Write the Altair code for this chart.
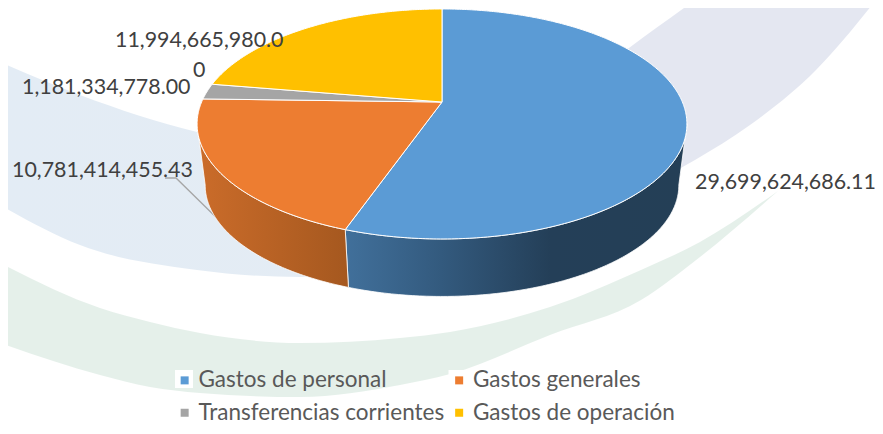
import math
import altair as alt
import pandas as pd

# ---- data
categories = ["Gastos de personal", "Gastos generales", "Transferencias corrientes", "Gastos de operación"]
values = [29699624686.11, 10781414455.43, 1181334778.00, 11994665980.00]
colors = ["#5B9BD5", "#ED7D31", "#A5A5A5", "#FFC000"]

# decorative background bands (reference pixels)
band1_x = [0, 80, 197, 300, 400, 550, 629, 695, 750, 816, 876]
band1_top = [62, 95, 132, 150, 155, 110, 48, 0, -40, -90, -140]
band1_bot = [205, 245, 270, 277, 268, 235, 195, 160, 125, 70, 0]
band2_x = [0, 100, 150, 200, 300, 400, 450, 550, 641, 700, 778]
band2_top = [263, 308, 322, 333, 343, 338, 332, 307, 270, 242, 191]
band2_bot = [343, 375, 387, 393, 397, 385, 374, 335, 300, 257, 191]

W, H = 867, 418
X = alt.Scale(domain=[8, 8 + W], range=[0, W])
Y = alt.Scale(domain=[8, 8 + H], range=[0, H])

# ---- perspective pie geometry
CX, AP, A, B, K = 442, 102, 240.4, 110.8, -0.191
DEPTH_SCALE, AP2 = 0.967, 164


def top(t):
    u, v = math.sin(t), -math.cos(t)
    d = 1 + K * v
    return CX + A * u / d, AP + B * v / d


def bottom(t):
    u, v = math.sin(t), -math.cos(t)
    d = 1 + K * v
    return CX + DEPTH_SCALE * A * u / d, AP2 + DEPTH_SCALE * B * v / d


def steps(a, b, n=None):
    n = n or max(2, int(abs(b - a) / math.radians(0.7)))
    return [a + (b - a) * i / n for i in range(n + 1)]


total = sum(values)
edges = [0.0]
for v in values:
    edges.append(edges[-1] + v / total * 2 * math.pi)

rows = []
for name, a, b in zip(categories, edges[:-1], edges[1:]):
    pts = [(CX, AP)] + [top(t) for t in steps(a, b)]
    rows += [{"cat": name, "i": i, "px": p[0], "py": p[1]} for i, p in enumerate(pts)]
pie_df = pd.DataFrame(rows)

t_right = math.radians(101)
t_left = math.radians(259)


def wall(a, b):
    ts = steps(a, b)
    pts = [top(t) for t in ts] + [bottom(t) for t in reversed(ts)]
    return pd.DataFrame([{"i": i, "px": p[0], "py": p[1]} for i, p in enumerate(pts)])


def grad(stops):
    return alt.LinearGradient(
        gradient="linear", x1=0, x2=1, y1=0, y2=0,
        stops=[alt.GradientStop(offset=o, color=c) for o, c in stops],
    )


def band(xs, ys, y2s, g):
    df = pd.DataFrame({"px": xs, "py": ys, "py2": y2s})
    return alt.Chart(df).mark_area(fill=g, interpolate="monotone", clip=True).encode(
        x=alt.X("px:Q", scale=X, axis=None),
        y=alt.Y("py:Q", scale=Y, axis=None),
        y2="py2:Q",
    )


band1 = band(band1_x, band1_top, band1_bot,
             grad([(0, "#E3ECF5"), (0.45, "#E4ECF4"), (0.7, "#E4E7F1"), (1, "#E4E7F1")]))
band2 = band(band2_x, band2_top, band2_bot, grad([(0, "#E5F0EA"), (1, "#E5F0EA")]))


def poly(df, **mark):
    return alt.Chart(df).mark_line(interpolate="linear-closed", **mark).encode(
        x=alt.X("px:Q", scale=X, axis=None),
        y=alt.Y("py:Q", scale=Y, axis=None),
        order="i:Q",
    )


leader = alt.Chart(pd.DataFrame({"px": [165, 176, 227], "py": [178, 178, 228]})).mark_line(
    color="#A6A6A6", strokeWidth=1.3
).encode(x=alt.X("px:Q", scale=X, axis=None), y=alt.Y("py:Q", scale=Y, axis=None))

wall_blue = poly(
    wall(t_right, edges[1]),
    fill=grad([(0, "#41709B"), (0.28, "#335A7E"), (0.6, "#243F58"), (1, "#243F56")]),
    stroke="white", strokeWidth=0.8,
)
wall_orange = poly(
    wall(edges[1], t_left),
    fill=grad([(0, "#CB6C2A"), (1, "#A5581F")]),
    stroke="white", strokeWidth=0.8,
)

pie_top = alt.Chart(pie_df).mark_line(
    interpolate="linear-closed", stroke="white", strokeWidth=1
).encode(
    x=alt.X("px:Q", scale=X, axis=None),
    y=alt.Y("py:Q", scale=Y, axis=None),
    order="i:Q",
    fill=alt.Fill(
        "cat:N",
        scale=alt.Scale(domain=categories, range=colors),
        sort=categories,
        legend=alt.Legend(
            title=None, orient="none", legendX=165.4, legendY=361, columns=2, direction="horizontal",
            symbolType="square", symbolSize=64, symbolStrokeWidth=0,
            labelFont="Lato", labelFontSize=22.5, labelColor="#595959", labelOffset=2.6,
            columnPadding=3.5, rowPadding=9.5, zindex=1, labelLimit=400,
        ),
    ),
)

halo = alt.Chart(pd.DataFrame({"px": [184, 457.5], "py": [379, 379]})).mark_square(
    color="white", size=324, opacity=1
).encode(x=alt.X("px:Q", scale=X, axis=None), y=alt.Y("py:Q", scale=Y, axis=None))

label_df = pd.DataFrame({
    "txt": ["{:,.2f}".format(values[0]), "{:,.2f}".format(values[1]), "{:,.2f}".format(values[2]),
            "{:,.2f}".format(values[3])[:-1], "{:,.2f}".format(values[3])[-1:]],
    "px": [695, 12, 22, 115, 193],
    "py": [183, 171, 88, 41, 71],
})
labels = alt.Chart(label_df).mark_text(
    align="left", baseline="middle", font="Lato", fontSize=21.4, color="#404040"
).encode(
    x=alt.X("px:Q", scale=X, axis=None),
    y=alt.Y("py:Q", scale=Y, axis=None),
    text="txt:N",
)

chart = alt.layer(band1, band2, leader, wall_blue, wall_orange, pie_top, halo, labels).resolve_scale(
    x="shared", y="shared"
).properties(
    width=W, height=H, padding=0, autosize=alt.AutoSizeParams(type="none"), background="white"
).configure_view(stroke=None)

chart.save("out.html", embed_options={"renderer": "svg", "actions": False})
